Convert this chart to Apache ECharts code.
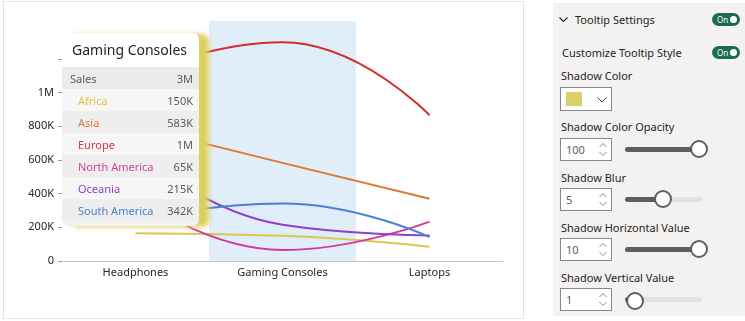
<!DOCTYPE html>
<html>
<head>
<meta charset="utf-8">
<script src="https://cdn.jsdelivr.net/npm/echarts@6/dist/echarts.min.js"></script>
<style>
  html, body { margin:0; padding:0; width:745px; height:321px; background:#fff; overflow:hidden; font-family:'Segoe UI','Noto Sans',sans-serif; }
  #card { position:absolute; left:3px; top:1px; width:519px; height:316px; border:1px solid #e4e4e4; background:#fff; }
  #chart { position:absolute; left:0; top:0; width:745px; height:321px; }
  #panel { position:absolute; left:553px; top:3px; width:192px; height:313px; background:#f3f2f1; z-index:5; color:#252423; font-size:11px; }
  .lbl { position:absolute; left:8px; white-space:nowrap; line-height:14px; }
  .toggle { position:absolute; left:159px; width:28px; height:13px; border-radius:7px; background:#1d6b57; }
  .toggle span { position:absolute; left:5px; top:0; font-size:8px; line-height:13px; color:#fff; }
  .toggle i { position:absolute; right:3px; top:3px; width:7px; height:7px; border-radius:50%; background:#fff; }
  .box { position:absolute; left:7px; width:50px; height:21px; border:1px solid #8a8886; background:#fff; box-sizing:content-box; }
  .box .num { position:absolute; left:5px; top:0; line-height:21px; font-size:11px; color:#605e5c; }
  .box svg { position:absolute; right:4px; top:3px; }
  .track { position:absolute; left:72px; width:77px; height:5px; border-radius:3px; background:#e4e2e0; }
  .fill { position:absolute; left:0; top:0; height:5px; border-radius:3px; background:#5f5e5c; }
  .knob { position:absolute; width:14px; height:14px; border-radius:50%; background:#fff; border:2px solid #5f5e5c; }
</style>
</head>
<body>
<div id="card"></div>
<div id="chart"></div>
<div id="panel">
  <svg style="position:absolute;left:6px;top:14px" width="9" height="6"><polyline points="0.5,0.5 4.5,4.5 8.5,0.5" fill="none" stroke="#252423" stroke-width="1.1"/></svg>
  <div class="lbl" style="left:22px;top:10px">Tooltip Settings</div>
  <div class="toggle" style="top:10px"><span>On</span><i></i></div>
  <div class="lbl" style="left:9px;top:43px">Customize Tooltip Style</div>
  <div class="toggle" style="top:43px"><span>On</span><i></i></div>

  <div class="lbl" style="top:66px">Shadow Color</div>
  <div class="box" style="top:84px;height:22px">
    <div style="position:absolute;left:5px;top:4px;width:16px;height:14px;background:#ddcf68"></div>
    <svg style="position:absolute;left:36px;top:9px" width="10" height="6"><polyline points="0.5,0.5 5,5 9.5,0.5" fill="none" stroke="#444" stroke-width="1"/></svg>
  </div>

  <div class="lbl" style="top:117px">Shadow Color Opacity</div>
  <div class="box" style="top:135px"><div class="num">100</div><svg width="8" height="15"><polyline points="0.5,5 4,1.5 7.5,5" fill="none" stroke="#8a8886" stroke-width="1"/><polyline points="0.5,10 4,13.5 7.5,10" fill="none" stroke="#8a8886" stroke-width="1"/></svg></div>
  <div class="track" style="top:144px"><div class="fill" style="width:77px"></div></div>
  <div class="knob" style="left:137px;top:137px"></div>

  <div class="lbl" style="top:168px">Shadow Blur</div>
  <div class="box" style="top:185px"><div class="num">5</div><svg width="8" height="15"><polyline points="0.5,5 4,1.5 7.5,5" fill="none" stroke="#8a8886" stroke-width="1"/><polyline points="0.5,10 4,13.5 7.5,10" fill="none" stroke="#8a8886" stroke-width="1"/></svg></div>
  <div class="track" style="top:194px"><div class="fill" style="width:40px"></div></div>
  <div class="knob" style="left:101px;top:187px"></div>

  <div class="lbl" style="top:218px">Shadow Horizontal Value</div>
  <div class="box" style="top:235px"><div class="num">10</div><svg width="8" height="15"><polyline points="0.5,5 4,1.5 7.5,5" fill="none" stroke="#8a8886" stroke-width="1"/><polyline points="0.5,10 4,13.5 7.5,10" fill="none" stroke="#8a8886" stroke-width="1"/></svg></div>
  <div class="track" style="top:244px"><div class="fill" style="width:77px"></div></div>
  <div class="knob" style="left:137px;top:237px"></div>

  <div class="lbl" style="top:268px">Shadow Vertical Value</div>
  <div class="box" style="top:285px"><div class="num">1</div><svg width="8" height="15"><polyline points="0.5,5 4,1.5 7.5,5" fill="none" stroke="#8a8886" stroke-width="1"/><polyline points="0.5,10 4,13.5 7.5,10" fill="none" stroke="#8a8886" stroke-width="1"/></svg></div>
  <div class="track" style="top:294px"><div class="fill" style="width:9px"></div></div>
  <div class="knob" style="left:73px;top:289px"></div>
</div>
<script>
const categories = ['Headphones', 'Gaming Consoles', 'Laptops'];
const seriesNames = ['Africa', 'Asia', 'Europe', 'North America', 'Oceania', 'South America'];
const africa = [165000, 150000, 85000];
const asia = [800000, 583000, 370000];
const europe = [1105000, 1300000, 866000];
const northAmerica = [384000, 65000, 234000];
const oceania = [654000, 215000, 152000];
const southAmerica = [246000, 342000, 142000];
const tickValues = [0, 200000, 400000, 600000, 800000, 1000000, 1200000];
const labelValues = [0, 200000, 400000, 600000, 800000, 1000000];
const colors = ['#dcc650', '#e07733', '#d42b2b', '#d43a9e', '#8e3fcc', '#4a80d6'];
const textColors = ['#e3c23e', '#e07a3c', '#d43a3a', '#d43fa0', '#8e42c8', '#4d7fd0'];

const allData = [africa, asia, europe, northAmerica, oceania, southAmerica];

function fmt(v) {
  if (v >= 1e6) return Math.round(v / 1e6) + 'M';
  if (v >= 1e3) return Math.round(v / 1e3) + 'K';
  return String(v);
}

const chart = echarts.init(document.getElementById('chart'), null, { renderer: 'canvas' });
const FONT = "'Segoe UI','Noto Sans',sans-serif";

const option = {
  animation: false,
  grid: { left: 62, right: 242, top: 21, bottom: 60 },
  tooltip: {
    trigger: 'axis',
    alwaysShowContent: true,
    transitionDuration: 0,
    position: [62, 33],
    padding: 0,
    borderWidth: 0,
    borderRadius: 7,
    backgroundColor: '#f2f2f2',
    shadowColor: 'rgba(221,206,96,1)',
    shadowBlur: 5,
    shadowOffsetX: 10,
    shadowOffsetY: 1,
    axisPointer: { type: 'shadow', z: 1, shadowStyle: { color: 'rgba(173,210,238,0.38)' } },
    formatter: function (params) {
      let total = 0;
      params.forEach(p => total += p.value);
      const rowBg = ['#f6f6f6', '#eeeeee'];
      let h = '<div style="width:137px;font-family:' + FONT.replace(/"/g, '') + ';">';
      h += '<div style="height:34px;background:#fff;border-radius:7px 7px 0 0;padding-left:10px;font-size:14px;line-height:34px;color:#222;">' + params[0].name + '</div>';
      h += '<div style="height:22px;background:#ebebeb;display:flex;justify-content:space-between;align-items:center;padding:0 6px 0 8px;font-size:11px;color:#5a5a5a;"><span>Sales</span><span>' + fmt(total) + '</span></div>';
      params.forEach((p, i) => {
        h += '<div style="height:22px;background:' + rowBg[i % 2] + ';display:flex;justify-content:space-between;align-items:center;padding:0 6px 0 16px;font-size:11px;"><span style="color:' + textColors[p.seriesIndex] + '">' + p.seriesName + '</span><span style="color:#5a5a5a">' + fmt(p.value) + '</span></div>';
      });
      h += '<div style="height:5px;"></div></div>';
      return h;
    }
  },
  xAxis: {
    type: 'category',
    data: categories,
    boundaryGap: true,
    axisLine: { lineStyle: { color: '#c4c4c4', width: 1 } },
    axisTick: { show: false },
    axisLabel: { color: '#252423', fontSize: 11, fontFamily: FONT, margin: 6 }
  },
  yAxis: {
    type: 'value',
    min: 0,
    max: 1426000,
    interval: 200000,
    axisLine: { show: false },
    axisTick: { show: true, length: 4, lineStyle: { color: '#9a9a9a' }, customValues: tickValues },
    splitLine: { show: false },
    axisLabel: {
      color: '#252423', fontSize: 11, fontFamily: FONT, margin: 8,
      customValues: labelValues,
      formatter: v => (v > 1000000 ? '' : fmt(v))
    }
  },
  series: seriesNames.map((name, i) => ({
    name: name,
    type: 'line',
    smooth: true,
    symbol: 'none',
    data: allData[i],
    lineStyle: { width: 2, color: colors[i] },
    itemStyle: { color: colors[i] },
    emphasis: { disabled: true }
  }))
};
chart.setOption(option);
chart.dispatchAction({ type: 'showTip', seriesIndex: 0, dataIndex: 1 });
</script>
</body>
</html>
